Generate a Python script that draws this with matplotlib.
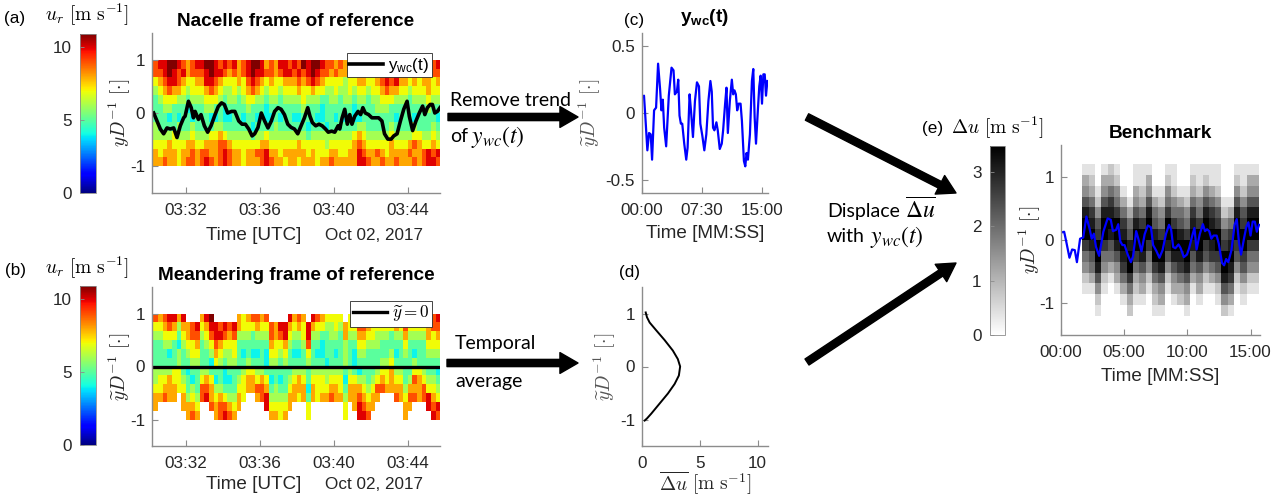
import numpy as np
import matplotlib as mpl
mpl.use('Agg')
import matplotlib.pyplot as plt
from matplotlib.patches import FancyArrowPatch

mpl.rcParams['font.family'] = 'Liberation Sans'
mpl.rcParams['mathtext.fontset'] = 'cm'
mpl.rcParams['mathtext.rm'] = 'Liberation Sans'
mpl.rcParams['mathtext.it'] = 'Liberation Sans:italic'
mpl.rcParams['mathtext.bf'] = 'Liberation Sans:bold'

# ---------------- data ----------------
# (a) wake centre in the nacelle frame, minutes after 03:30 UTC
t_nac = [0.26, 0.44, 0.62, 0.80, 0.98, 1.16, 1.34, 1.52, 1.70, 1.88, 1.96, 2.14,
         2.29, 2.41, 2.50, 2.68, 2.82, 3.00, 3.18, 3.36, 3.58, 3.75, 3.93, 4.08,
         4.26, 4.47, 4.65, 4.86, 5.04, 5.22, 5.40, 5.58, 5.72, 5.90, 6.08, 6.26,
         6.44, 6.62, 6.80, 6.98, 7.15, 7.33, 7.51, 7.69, 7.87, 8.05, 8.23, 8.41,
         8.59, 8.71, 8.84, 9.02, 9.20, 9.37, 9.55, 9.70, 9.88, 10.05, 10.23, 10.32,
         10.45, 10.59, 10.73, 10.86, 10.98, 11.13, 11.31, 11.45, 11.57, 11.70,
         11.88, 12.06, 12.24, 12.42, 12.60, 12.74, 12.92, 13.10, 13.24, 13.42,
         13.60, 13.78, 13.96, 14.08, 14.26, 14.44, 14.62, 14.80, 14.92, 15.06,
         15.21, 15.33, 15.46, 15.60, 15.74]
ywc_nac = [0.00, -0.15, -0.30, -0.39, -0.28, -0.30, -0.28, -0.46, -0.24, -0.09, -0.06, 0.22,
           0.10, -0.09, 0.03, -0.12, -0.03, -0.24, -0.36, -0.24, -0.03, 0.12, 0.19, 0.16,
           0.00, 0.03, 0.03, -0.15, -0.21, -0.21, -0.30, -0.43, -0.39, -0.27, 0.00, -0.15,
           -0.28, -0.15, 0.03, 0.10, 0.07, -0.03, -0.21, -0.27, -0.30, -0.39, -0.24, -0.09,
           0.10, -0.06, -0.18, -0.24, -0.21, -0.24, -0.30, -0.36, -0.34, -0.36, -0.24, -0.30,
           -0.09, 0.07, -0.21, -0.03, -0.21, -0.06, 0.03, -0.03, 0.10, 0.00,
           -0.03, -0.09, -0.09, -0.09, -0.15, -0.39, -0.49, -0.49, -0.43, -0.39,
           -0.15, 0.07, 0.22, -0.06, -0.33, -0.15, 0.00, 0.13, -0.03, 0.10,
           0.16, 0.16, 0.00, 0.03, 0.10]

# (c), (e) detrended y_wc(t), minutes from start
t_wc = [0.00, 0.25, 0.42, 0.67, 0.88, 1.09, 1.26, 1.51, 1.76, 2.01, 2.26, 2.43,
        2.60, 2.77, 3.02, 3.35, 3.69, 3.94, 4.11, 4.36, 4.53, 4.69, 4.86, 5.03,
        5.28, 5.53, 5.70, 5.95, 6.12, 6.37, 6.62, 6.87, 7.12, 7.29, 7.54, 7.79,
        8.04, 8.30, 8.55, 8.72, 8.88, 9.05, 9.30, 9.47, 9.72, 9.97, 10.14, 10.39,
        10.56, 10.73, 10.98, 11.23, 11.40, 11.56, 11.73, 11.90, 12.07, 12.32, 12.49,
        12.74, 12.91, 13.07, 13.24, 13.49, 13.74, 13.91, 14.08, 14.25, 14.50, 14.66,
        14.83, 15.00, 15.17, 15.34, 15.50, 15.67]
ywc = [0.117, 0.13, -0.03, -0.28, -0.15, -0.16, -0.35, 0.02, 0.04, 0.37, 0.18, 0.02,
       0.10, -0.11, -0.25, 0.13, 0.34, 0.32, 0.14, 0.16, 0.25, -0.02, -0.08, -0.08,
       -0.23, -0.35, -0.26, 0.14, 0.02, -0.18, 0.09, 0.23, 0.20, -0.08, -0.17, -0.28,
       -0.16, 0.09, 0.24, 0.16, -0.11, -0.13, -0.07, -0.13, -0.27, -0.23, -0.13, 0.07,
       0.19, -0.15, 0.09, 0.25, 0.14, 0.17, 0.14, 0.02, 0.07, 0.07, -0.06,
       -0.36, -0.40, -0.30, -0.35, -0.16, 0.24, 0.33, -0.03, -0.23, 0.04, 0.20,
       0.28, 0.07, 0.29, 0.29, 0.13, 0.24]

# (d) time averaged deficit profile
ytil_prof = [1.02, 0.93, 0.83, 0.68, 0.50, 0.30, 0.14, 0.00, -0.17, -0.33, -0.51, -0.70, -0.89, -0.98, -1.02]
du_prof = [0.32, 0.43, 0.66, 1.24, 1.95, 2.67, 3.10, 3.30, 3.19, 2.82, 2.24, 1.52, 0.80, 0.43, 0.23]

# (a) u_r in m/s (hex digit), rows top->bottom (yD^-1 = 1 .. -1), 15 s columns from 03:30:15
ur_rows = [
    "9aabba989a" "abba9a9a89" "abba898aa9" "a9babba998" "989a98989a" "babba9a9aa" "9a",
    "99aba9a899" "9abaa98989" "abaa9989aa" "9a9aba9989" "889999899a" "abaa99a9a9" "99",
    "789aa98778" "8aa9877787" "9a98787788" "8989a98777" "7677887789" "a9a8878788" "78",
    "6789887677" "7898766767" "8987677677" "7877877667" "6676776778" "9887767778" "77",
    "5677766566" "6777656656" "7766566566" "6676665566" "5665665667" "7766656667" "66",
    "5566555455" "5665545555" "6555455555" "5565554555" "5554555566" "6555555556" "55",
    "5554545545" "5544544554" "5545445455" "4455544554" "5454455555" "5545554555" "54",
    "6555565565" "5556655555" "5455556555" "5554555455" "5555665555" "5655556555" "65",
    "6666766676" "6677876666" "6566766666" "6665666666" "6667876666" "6766667766" "76",
    "7778777887" "7888998777" "7778877777" "7877777677" "7778987777" "7877789877" "87",
    "8788878898" "99889a9887" "8899a88788" "8887877788" "7788a98898" "788889889a" "9a",
    "8898878998" "9a989a9887" "8889a98878" "8788878898" "8888aa9889" "889888989a" "a9",
]
# (b) how many rows each nacelle column is lifted in the meandering frame
row_shift = [1, 2, 2, 2, 2, 3, 1, -1, -1, -1, 2, 2, 1, -1, -1, -1, -1, -1, 1, 2,
             3, 3, 2, 2, 1, -1, -1, -1, -1, 1, 2, 2, 2, -1, 2, 2, 2, 2, 2, 2,
             2, -1, 2, 1, 0, 0, 0, 1, 2, 3, 3, 3, 2, 2, 0, 1, 2, 2, 2, 1, 0, 0]

# (e) benchmark deficit, 30 s columns from 01:42, rows top->bottom (1.2 .. -1.2),
# digit 0-9 on the colorbar scale, '.' = no data
bench_cols = ["134689975421..", "123578986531..", "..124679986421", "134689975421..",
              "23578986531...", "124579986431..", "..13578987531.", "...13568997532",
              "1134689975321.", "1123579986431.", "134689975421..", "..135689975321",
              "..124579986431", "124579986421..", "1124579986431.", "..13568987532.",
              "..124579986431", "123578986531..", "1124579986431.", "124689976421..",
              "113578987531..", "1124679976421.", "...12467998642", "...13578987531",
              "124689976421..", "1124679976421.", "134689975421..", "134689975421.."]

utc_ticks = [2, 6, 10, 14]
utc_labels = ['03:32', '03:36', '03:40', '03:44']
mmss_c_ticks = [0, 7.5, 15]
mmss_c_labels = ['00:00', '07:30', '15:00']
mmss_e_ticks = [0, 5, 10, 15]
mmss_e_labels = ['00:00', '05:00', '10:00', '15:00']

UR_MAX = 10.9
DU_MAX = 3.47
GRAY = '#8c8c8c'
TXT = '#262626'

W, H = 1282, 500
fig = plt.figure(figsize=(W / 100, H / 100), dpi=100)


def box(x0, y0, x1, y1):
    return [x0 / W, 1 - y1 / H, (x1 - x0) / W, (y1 - y0) / H]


def style(ax, xlim, xt, xl, ylim, yt, yl):
    ax.set_xlim(xlim)
    ax.set_ylim(ylim)
    ax.set_xticks(xt, xl)
    ax.set_yticks(yt, yl)
    for s in ('top', 'right'):
        ax.spines[s].set_visible(False)
    for s in ('left', 'bottom'):
        ax.spines[s].set_color(GRAY)
        ax.spines[s].set_linewidth(1.0)
    ax.tick_params(direction='in', length=4, width=0.8, color=GRAY,
                   labelsize=12.3, labelcolor=TXT)
    ax.tick_params(axis='x', pad=7)
    ax.tick_params(axis='y', pad=5)


def labels(ax, xlab, xpos, ylab, ypos, ycol=TXT):
    ax.set_xlabel(xlab, fontsize=13.6, color=TXT)
    ax.xaxis.set_label_coords(*xpos)
    ax.xaxis.label.set_va('center')
    ax.set_ylabel(ylab, fontsize=14, color=ycol)
    ax.yaxis.set_label_coords(ypos, 0.5)
    ax.yaxis.label.set_va('center')


def colorbar(mappable, rect, ticks):
    cax = fig.add_axes(rect)
    cb = fig.colorbar(mappable, cax=cax, ticks=ticks)
    cax.yaxis.set_ticks_position('left')
    cax.tick_params(direction='in', length=3, width=0.6, color=GRAY,
                    labelsize=12.3, labelcolor=TXT, pad=6)
    cb.outline.set_edgecolor(GRAY)
    cb.outline.set_linewidth(0.6)
    return cb


ur = np.array([[int(c, 16) for c in row] for row in ur_rows], dtype=float)
t_edges = 0.25 + 0.25 * np.arange(ur.shape[1] + 1)
y_edges = np.linspace(1, -1, ur.shape[0] + 1)

ur_m = np.full_like(ur, np.nan)
for j, k in enumerate(row_shift):
    for r in range(ur.shape[0]):
        if 0 <= r + k < ur.shape[0]:
            ur_m[r, j] = ur[r + k, j]

bench = np.array([[np.nan if c == '.' else int(c) for c in col] for col in bench_cols]).T * DU_MAX / 9
t_e = 1.7 + 0.5 * np.arange(len(bench_cols) + 1)
y_e = np.linspace(1.2, -1.2, bench.shape[0] + 1)

# ---------------- (a) nacelle frame ----------------
ax = fig.add_axes(box(152, 33, 440, 193))
m_a = ax.pcolormesh(t_edges, y_edges, ur, cmap='jet', vmin=0, vmax=UR_MAX)
ax.plot(t_nac, ywc_nac, color='k', lw=2.6, label='y$_{\\rm wc}$(t)')
style(ax, (0.17, 15.74), utc_ticks, utc_labels, (-1.5, 1.5), [-1, 0, 1], ['-1', '0', '1'])
labels(ax, 'Time [UTC]', (0.352, -0.2625), r'$yD^{-1}\ [\cdot]$', -0.11)
ax.text(0.941, -0.2625, 'Oct 02, 2017', transform=ax.transAxes, ha='right', va='center',
        fontsize=12.3, color=TXT)
ax.text(0.5, 1.07, 'Nacelle frame of reference', transform=ax.transAxes, ha='center',
        va='center', fontsize=13.7, fontweight='bold')
leg = ax.legend(loc='upper right', bbox_to_anchor=(0.972, 0.875), fontsize=12.3,
                fancybox=False, edgecolor=TXT, framealpha=1, borderpad=0.15,
                handlelength=2.0, handletextpad=0.3, borderaxespad=0)
leg.get_frame().set_linewidth(0.6)
leg.get_texts()[0].set_math_fontfamily('custom')
colorbar(m_a, box(80, 34, 96, 193), [0, 5, 10])
fig.text(87 / W, 1 - 15 / H, r'$u_r\ [\mathrm{m\ s^{-1}}]$', ha='center', va='center', fontsize=14)
fig.text(15 / W, 1 - 18 / H, '(a)', ha='center', va='center', fontsize=12.3)

# ---------------- (b) meandering frame ----------------
ax = fig.add_axes(box(152, 287, 440, 446))
m_b = ax.pcolormesh(t_edges, y_edges, ur_m, cmap='jet', vmin=0, vmax=UR_MAX)
ax.axhline(0, color='k', lw=2.4, label=r'$\widetilde{y} = 0$')
style(ax, (0.17, 15.74), utc_ticks, utc_labels, (-1.5, 1.5), [-1, 0, 1], ['-1', '0', '1'])
labels(ax, 'Time [UTC]', (0.352, -0.245), r'$\widetilde{y}D^{-1}\ [\cdot]$', -0.11)
ax.text(0.941, -0.245, 'Oct 02, 2017', transform=ax.transAxes, ha='right', va='center',
        fontsize=12.3, color=TXT)
ax.text(0.5, 1.075, 'Meandering frame of reference', transform=ax.transAxes, ha='center',
        va='center', fontsize=13.7, fontweight='bold')
leg = ax.legend(loc='upper right', bbox_to_anchor=(0.972, 0.91), fontsize=12.3,
                fancybox=False, edgecolor=TXT, framealpha=1, borderpad=0.15,
                handlelength=2.0, handletextpad=0.3, borderaxespad=0)
leg.get_frame().set_linewidth(0.6)
colorbar(m_b, box(80, 286, 96, 445), [0, 5, 10])
fig.text(87 / W, 1 - 268 / H, r'$u_r\ [\mathrm{m\ s^{-1}}]$', ha='center', va='center', fontsize=14)
fig.text(15 / W, 1 - 270 / H, '(b)', ha='center', va='center', fontsize=12.3)

# ---------------- (c) y_wc(t) ----------------
ax = fig.add_axes(box(642, 33, 768, 193))
ax.plot(t_wc, ywc, color='#0000ff', lw=1.6)
style(ax, (0, 15.75), mmss_c_ticks, mmss_c_labels, (-0.6, 0.6), [-0.5, 0, 0.5], ['-0.5', '0', '0.5'])
labels(ax, 'Time [MM:SS]', (0.5, -0.25), r'$\widetilde{y}D^{-1}\ [\cdot]$', -0.41, '#555555')
t = ax.text(0.5, 1.1, 'y$_{\\mathbf{wc}}$(t)', transform=ax.transAxes, ha='center', va='center',
            fontsize=13.7, fontweight='bold')
t.set_math_fontfamily('custom')
fig.text(634 / W, 1 - 21 / H, '(c)', ha='center', va='center', fontsize=12.3)

# ---------------- (d) mean profile ----------------
ax = fig.add_axes(box(642, 287, 768, 446))
ax.plot(du_prof, ytil_prof, color='k', lw=1.4)
style(ax, (0, UR_MAX), [0, 5, 10], ['0', '5', '10'], (-1.5, 1.5), [-1, 0, 1], ['-1', '0', '1'])
labels(ax, r'$\overline{\Delta u}\ [\mathrm{m\ s^{-1}}]$', (0.5, -0.233),
       r'$\widetilde{y}D^{-1}\ [\cdot]$', -0.29, '#555555')
ax.xaxis.label.set_fontsize(14)
fig.text(630 / W, 1 - 273 / H, '(d)', ha='center', va='center', fontsize=12.3)

# ---------------- (e) benchmark ----------------
ax = fig.add_axes(box(1061, 145, 1260, 335))
m_e = ax.pcolormesh(t_e, y_e, bench, cmap='gray_r', vmin=0, vmax=DU_MAX)
ax.plot(t_wc, ywc, color='#0000ff', lw=1.6)
style(ax, (0, 15.75), mmss_e_ticks, mmss_e_labels, (-1.5, 1.5), [-1, 0, 1], ['-1', '0', '1'])
labels(ax, 'Time [MM:SS]', (0.5, -0.221), r'$yD^{-1}\ [\cdot]$', -0.156)
ax.text(0.5, 1.063, 'Benchmark', transform=ax.transAxes, ha='center', va='center',
        fontsize=13.7, fontweight='bold')
colorbar(m_e, box(990, 146, 1005, 335), [0, 1, 2, 3])
fig.text(997 / W, 1 - 128 / H, r'$\Delta u\ [\mathrm{m\ s^{-1}}]$', ha='center', va='center', fontsize=14)
fig.text(933 / W, 1 - 128 / H, '(e)', ha='center', va='center', fontsize=12.3)


# ---------------- process arrows and notes ----------------
def arrow(x0, y0, x1, y1):
    fig.add_artist(FancyArrowPatch((x0 / W, 1 - y0 / H), (x1 / W, 1 - y1 / H),
                                   transform=fig.transFigure, color='k', shrinkA=0, shrinkB=0,
                                   mutation_scale=20,
                                   arrowstyle='simple,head_length=0.65,head_width=0.75,tail_width=0.26'))


def note(x, y, s, size=14):
    t = fig.text(x / W, 1 - y / H, s, ha='left', va='center', fontsize=size, family='Lato')
    t.set_math_fontfamily('stix')


arrow(448, 117, 578, 117)
arrow(447, 363, 578, 363)
arrow(807, 117, 956, 193)
arrow(807, 362, 956, 263)
note(450, 100, 'Remove trend')
note(450, 137, 'of')
note(471, 137, '$y_{wc}(t)$', 17)
note(455, 343, 'Temporal')
note(455, 382, 'average')
note(827, 212, 'Displace')
note(905, 210, r'$\overline{\Delta u}$', 17)
note(827, 237, 'with')
note(870, 237, '$y_{wc}(t)$', 17)

fig.savefig('out.png', dpi=100)
